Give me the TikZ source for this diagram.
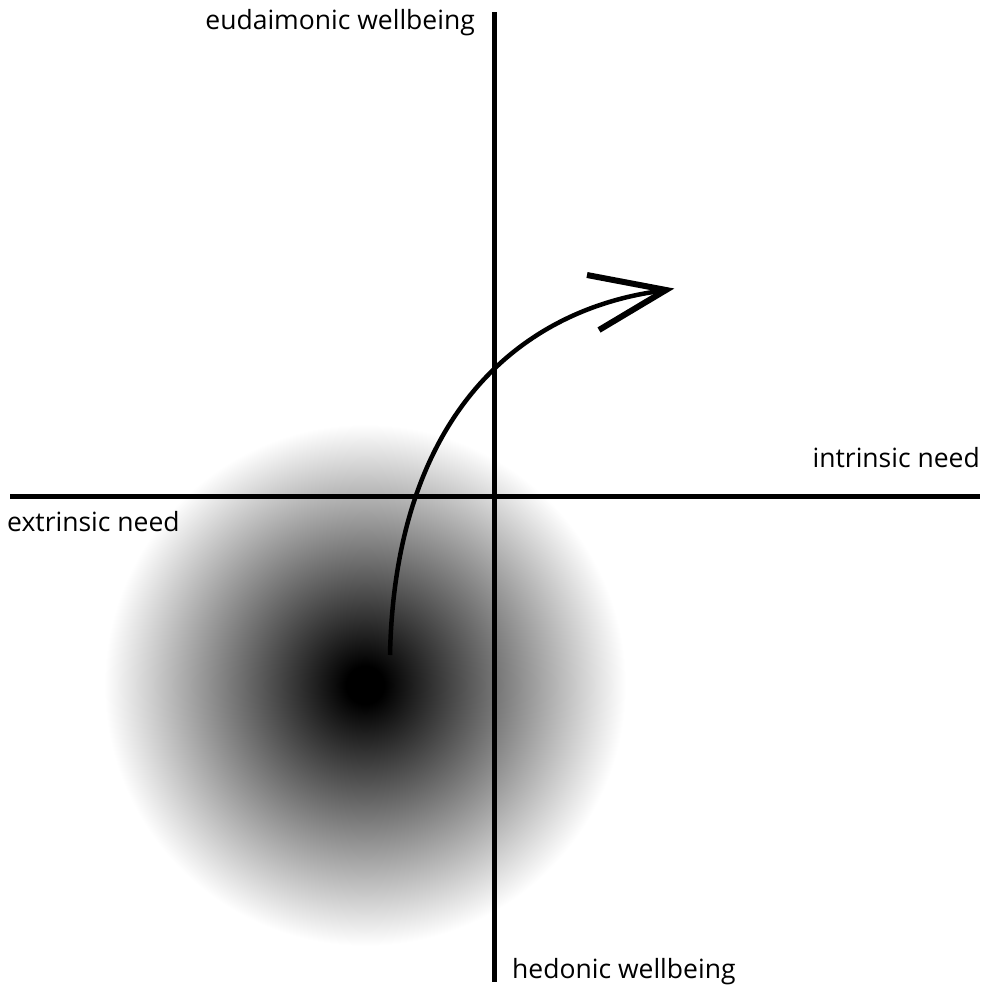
\documentclass[tikz,border=0pt]{standalone}
\usepackage{fontspec}
\setmainfont{Open Sans}
\pgfdeclareradialshading{ball}{\pgfpoint{0bp}{0bp}}{color(0bp)=(black); color(1.8bp)=(black); color(24.6bp)=(white); color(50bp)=(white)}
\begin{document}
\begin{tikzpicture}[x=1bp,y=1bp,
  axis/.style={line width=5bp},
  curvearrow/.style={line width=4.5bp},
  lbl/.style={inner sep=0pt, font=\fontsize{26.5bp}{30bp}\selectfont}]
\useasboundingbox (0,0) rectangle (990,-994);
\shade[shading=ball] (365,-685) circle (265);
\coordinate (vtop) at (494.5,-12);
\coordinate (vbot) at (494.5,-982);
\coordinate (hl) at (10,-496.5);
\coordinate (hr) at (980,-496.5);
\draw[axis] (vtop) -- (vbot);
\draw[axis] (hl) -- (hr);
\coordinate (s) at (390,-655);
\coordinate (tip) at (666,-290);
\coordinate (b1) at (587,-275);
\coordinate (b2) at (599,-330);
\draw[curvearrow] (s) .. controls (395,-415) and (520,-310) .. (660,-291);
\draw[line width=6bp, line join=miter] (b1) -- (tip) -- (b2);
\node[lbl, anchor=base east] (eu) at (475,-29) {eudaimonic wellbeing};
\node[lbl, anchor=base east] (in) at (980,-467) {intrinsic need};
\node[lbl, anchor=base west] (ex) at (7,-531) {extrinsic need};
\node[lbl, anchor=base west] (he) at (512,-978) {hedonic wellbeing};
\end{tikzpicture}
\end{document}
